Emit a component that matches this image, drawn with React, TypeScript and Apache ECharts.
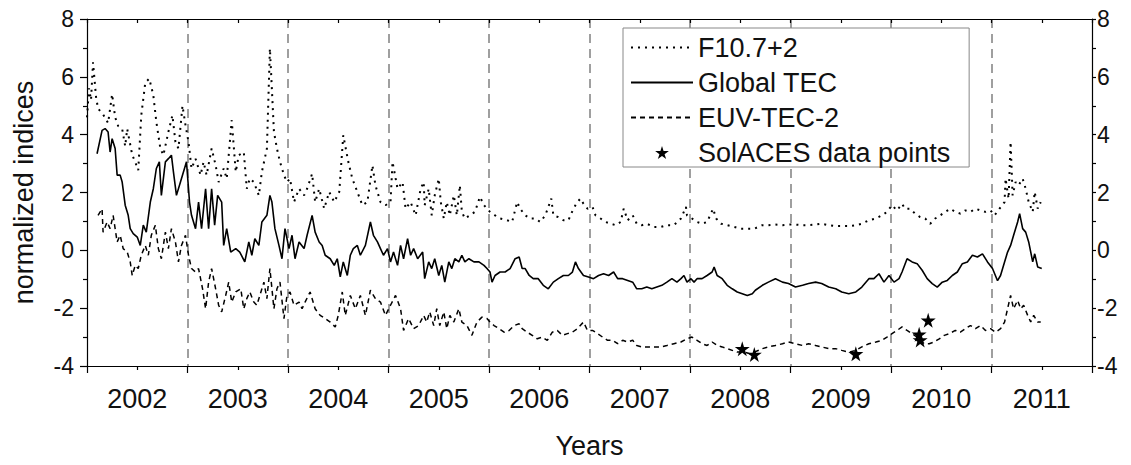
import React, { useEffect, useRef } from "react";
import * as echarts from "echarts";

// ---- data (decimal year, normalized value) ----
const f107: [number, number][] = [
  [2002.00,4.6],[2002.02,5.6],[2002.04,5.2],[2002.06,6.5],[2002.09,5.3],[2002.11,4.9],[2002.16,4.7],[2002.21,4.4],
  [2002.25,5.4],[2002.28,4.6],[2002.31,4.3],[2002.35,4.2],[2002.38,3.6],[2002.40,4.2],[2002.45,3.3],[2002.48,3.05],
  [2002.51,2.77],[2002.54,4.67],[2002.58,5.8],[2002.62,5.94],[2002.66,5.36],[2002.69,4.44],[2002.73,3.52],[2002.76,3.29],
  [2002.81,4.1],[2002.85,4.67],[2002.88,3.75],[2002.91,3.52],[2002.95,5.0],[2002.98,4.33],[2003.01,3.75],[2003.04,2.83],
  [2003.08,3.17],[2003.13,2.6],[2003.16,3.06],[2003.19,2.6],[2003.24,3.52],[2003.28,2.94],[2003.31,2.36],[2003.36,2.83],
  [2003.39,2.48],[2003.44,4.5],[2003.48,2.71],[2003.51,3.29],[2003.56,3.4],[2003.59,2.13],[2003.62,2.48],[2003.66,2.36],
  [2003.71,1.9],[2003.74,2.71],[2003.79,3.52],[2003.82,6.98],[2003.86,4.1],[2003.89,3.52],[2003.92,3.06],[2003.96,2.6],
  [2003.99,2.36],[2004.02,2.48],[2004.06,1.67],[2004.11,2.13],[2004.16,1.9],[2004.19,2.13],[2004.24,2.65],[2004.27,1.67],
  [2004.31,2.13],[2004.36,1.44],[2004.41,2.02],[2004.46,1.67],[2004.51,2.02],[2004.55,3.98],[2004.60,3.06],[2004.64,2.48],
  [2004.69,2.02],[2004.74,1.56],[2004.79,1.67],[2004.84,2.94],[2004.87,2.25],[2004.92,1.67],[2004.97,1.56],[2005.02,1.67],
  [2005.04,3.06],[2005.09,2.13],[2005.14,2.36],[2005.17,1.44],[2005.22,1.67],[2005.27,1.21],[2005.32,2.13],[2005.35,2.36],
  [2005.36,1.56],[2005.40,2.13],[2005.43,1.21],[2005.46,1.9],[2005.50,2.48],[2005.52,1.67],[2005.55,1.10],[2005.58,1.67],
  [2005.61,1.21],[2005.65,1.90],[2005.68,1.21],[2005.71,2.25],[2005.73,1.33],[2005.76,1.10],[2005.81,1.21],[2005.86,1.33],
  [2005.91,1.85],[2005.95,1.56],[2005.98,1.44],[2006.01,1.33],[2006.06,1.21],[2006.11,1.10],[2006.18,1.04],[2006.23,0.98],
  [2006.28,1.67],[2006.31,1.44],[2006.36,1.21],[2006.41,1.10],[2006.46,1.10],[2006.51,0.98],[2006.56,1.21],[2006.62,1.79],
  [2006.64,1.21],[2006.69,1.15],[2006.74,1.04],[2006.79,1.04],[2006.84,1.44],[2006.88,1.67],[2006.91,1.79],[2006.94,1.61],
  [2006.98,1.44],[2007.03,1.50],[2007.06,1.21],[2007.11,1.10],[2007.16,0.98],[2007.21,0.92],[2007.26,0.87],[2007.31,0.98],
  [2007.34,1.44],[2007.38,1.04],[2007.43,1.21],[2007.47,0.92],[2007.52,0.87],[2007.57,0.92],[2007.64,0.81],[2007.71,0.81],
  [2007.77,0.87],[2007.84,0.87],[2007.91,1.10],[2007.96,1.50],[2007.97,1.21],[2008.02,1.10],[2008.07,0.98],[2008.12,0.92],
  [2008.17,0.98],[2008.23,1.44],[2008.26,1.10],[2008.31,0.92],[2008.37,0.87],[2008.44,0.81],[2008.50,0.75],[2008.57,0.75],
  [2008.64,0.75],[2008.72,0.87],[2008.78,0.87],[2008.85,0.89],[2008.92,0.87],[2008.98,0.89],[2009.05,0.89],[2009.12,0.87],
  [2009.18,0.87],[2009.25,0.89],[2009.31,0.92],[2009.38,0.87],[2009.45,0.84],[2009.51,0.84],[2009.58,0.84],[2009.65,0.87],
  [2009.71,0.92],[2009.78,1.04],[2009.85,1.10],[2009.91,1.21],[2009.96,1.33],[2010.01,1.56],[2010.06,1.38],[2010.11,1.61],
  [2010.14,1.44],[2010.19,1.44],[2010.24,1.27],[2010.29,1.15],[2010.34,1.10],[2010.39,0.92],[2010.44,1.10],[2010.49,1.21],
  [2010.54,1.33],[2010.59,1.44],[2010.64,1.33],[2010.69,1.27],[2010.74,1.38],[2010.79,1.33],[2010.84,1.44],[2010.89,1.38],
  [2010.94,1.33],[2010.99,1.38],[2011.03,1.21],[2011.08,1.44],[2011.13,1.67],[2011.14,2.48],[2011.17,1.79],[2011.19,3.75],
  [2011.21,1.90],[2011.24,2.36],[2011.27,2.25],[2011.31,2.48],[2011.34,2.13],[2011.37,1.67],[2011.41,1.33],[2011.43,2.02],
  [2011.46,1.44],[2011.49,1.67]
];

const globalTec: [number, number][] = [
  [2002.10,3.34],[2002.15,4.15],[2002.18,4.21],[2002.21,4.09],[2002.23,3.40],[2002.25,3.86],[2002.28,3.52],[2002.30,2.60],
  [2002.33,2.60],[2002.35,2.36],[2002.38,1.56],[2002.41,1.21],[2002.43,0.75],[2002.46,0.58],[2002.50,0.46],[2002.53,0.17],
  [2002.56,0.87],[2002.59,0.63],[2002.63,1.67],[2002.66,2.13],[2002.69,2.83],[2002.72,3.06],[2002.74,1.90],[2002.78,3.06],
  [2002.81,3.17],[2002.84,3.29],[2002.86,2.71],[2002.89,1.90],[2002.93,2.36],[2002.97,2.83],[2002.99,3.06],[2003.02,1.67],
  [2003.04,1.21],[2003.08,0.75],[2003.11,1.67],[2003.14,0.75],[2003.18,2.13],[2003.21,0.75],[2003.24,2.13],[2003.27,0.87],
  [2003.30,1.90],[2003.34,1.67],[2003.36,0.17],[2003.39,0.75],[2003.43,-0.06],[2003.48,0.06],[2003.52,-0.06],[2003.57,-0.40],
  [2003.61,0.29],[2003.64,-0.17],[2003.67,0.40],[2003.71,0.17],[2003.74,0.98],[2003.79,1.21],[2003.82,1.90],[2003.84,1.67],
  [2003.87,0.75],[2003.91,0.17],[2003.94,-0.29],[2003.97,0.75],[2004.01,0.06],[2004.04,0.52],[2004.07,-0.29],[2004.11,0.29],
  [2004.16,0.06],[2004.19,0.52],[2004.24,1.21],[2004.27,0.63],[2004.31,0.29],[2004.34,0.17],[2004.37,-0.17],[2004.42,-0.29],
  [2004.46,-0.52],[2004.49,-0.29],[2004.52,-0.92],[2004.55,-0.40],[2004.59,-0.87],[2004.62,-0.17],[2004.65,0.06],[2004.69,0.17],
  [2004.72,-0.17],[2004.77,0.17],[2004.82,0.98],[2004.85,0.52],[2004.89,0.29],[2004.92,0.06],[2004.95,-0.17],[2004.99,0.06],
  [2005.02,-0.40],[2005.05,-0.06],[2005.09,-0.52],[2005.12,0.17],[2005.15,-0.29],[2005.19,0.40],[2005.22,-0.17],[2005.25,0.06],
  [2005.29,-0.29],[2005.34,-0.06],[2005.36,-0.98],[2005.40,-0.40],[2005.43,-0.63],[2005.46,-0.29],[2005.50,-0.87],[2005.53,-0.52],
  [2005.56,-1.10],[2005.60,-0.40],[2005.63,-0.63],[2005.66,-0.29],[2005.70,-0.40],[2005.73,-0.17],[2005.76,-0.40],[2005.80,-0.29],
  [2005.85,-0.40],[2005.90,-0.40],[2005.95,-0.52],[2005.98,-0.63],[2006.01,-0.75],[2006.03,-1.10],[2006.06,-0.87],[2006.11,-0.75],
  [2006.16,-0.75],[2006.21,-0.63],[2006.26,-0.29],[2006.30,-0.23],[2006.33,-0.63],[2006.36,-0.63],[2006.40,-0.87],[2006.44,-0.98],
  [2006.49,-0.98],[2006.54,-1.21],[2006.59,-1.33],[2006.64,-1.10],[2006.69,-0.98],[2006.74,-0.87],[2006.79,-0.87],[2006.83,-0.75],
  [2006.86,-0.40],[2006.89,-0.63],[2006.94,-0.87],[2006.99,-0.92],[2007.04,-0.98],[2007.09,-0.87],[2007.14,-0.81],[2007.19,-0.87],
  [2007.24,-0.75],[2007.28,-0.98],[2007.33,-0.98],[2007.38,-1.04],[2007.43,-1.10],[2007.47,-1.33],[2007.52,-1.33],[2007.57,-1.27],
  [2007.62,-1.33],[2007.67,-1.27],[2007.72,-1.21],[2007.77,-1.10],[2007.82,-0.98],[2007.87,-1.10],[2007.91,-0.98],[2007.94,-0.87],
  [2007.97,-1.10],[2008.01,-0.98],[2008.04,-1.10],[2008.07,-0.98],[2008.12,-0.98],[2008.17,-0.87],[2008.22,-0.75],[2008.24,-0.58],
  [2008.27,-0.87],[2008.32,-0.98],[2008.37,-1.21],[2008.42,-1.33],[2008.47,-1.44],[2008.52,-1.50],[2008.57,-1.56],[2008.62,-1.50],
  [2008.65,-1.38],[2008.72,-1.21],[2008.78,-1.10],[2008.85,-0.98],[2008.92,-1.10],[2008.98,-1.15],[2009.05,-1.27],[2009.12,-1.21],
  [2009.18,-1.15],[2009.25,-1.10],[2009.31,-1.15],[2009.38,-1.27],[2009.45,-1.33],[2009.51,-1.44],[2009.58,-1.50],[2009.65,-1.44],
  [2009.71,-1.27],[2009.78,-0.98],[2009.83,-0.98],[2009.88,-0.81],[2009.93,-1.10],[2009.98,-0.87],[2010.03,-1.10],[2010.08,-0.98],
  [2010.11,-0.75],[2010.16,-0.29],[2010.21,-0.40],[2010.26,-0.46],[2010.31,-0.69],[2010.36,-0.98],[2010.41,-1.15],[2010.46,-1.27],
  [2010.51,-1.10],[2010.56,-1.04],[2010.61,-0.87],[2010.66,-0.75],[2010.71,-0.46],[2010.76,-0.40],[2010.81,-0.17],[2010.86,-0.23],
  [2010.91,-0.12],[2010.96,-0.40],[2011.01,-0.63],[2011.06,-1.05],[2011.09,-0.87],[2011.13,-0.40],[2011.16,-0.06],[2011.19,0.17],
  [2011.22,0.52],[2011.26,0.98],[2011.28,1.27],[2011.31,0.75],[2011.34,0.63],[2011.37,0.29],[2011.41,-0.40],[2011.43,-0.12],
  [2011.46,-0.58],[2011.50,-0.63]
];

const euvTec: [number, number][] = [
  [2002.11,1.21],[2002.15,1.44],[2002.16,0.63],[2002.20,0.98],[2002.23,0.75],[2002.26,1.21],[2002.30,0.29],[2002.33,0.52],
  [2002.36,0.06],[2002.40,-0.06],[2002.43,-0.40],[2002.45,-0.87],[2002.48,-0.52],[2002.51,-0.63],[2002.54,-0.17],[2002.58,0.17],
  [2002.61,-0.17],[2002.64,0.52],[2002.68,0.87],[2002.71,0.06],[2002.74,-0.29],[2002.78,0.63],[2002.81,0.06],[2002.84,0.75],
  [2002.88,0.29],[2002.91,-0.40],[2002.94,0.17],[2002.98,0.52],[2003.01,-0.17],[2003.04,-0.63],[2003.08,-0.75],[2003.11,-0.63],
  [2003.15,-1.33],[2003.18,-2.02],[2003.21,-1.10],[2003.24,-0.63],[2003.28,-1.33],[2003.31,-1.90],[2003.34,-2.13],[2003.38,-1.56],
  [2003.41,-1.10],[2003.44,-1.79],[2003.48,-1.44],[2003.53,-1.33],[2003.56,-2.02],[2003.59,-1.67],[2003.62,-1.44],[2003.66,-1.79],
  [2003.69,-1.90],[2003.72,-1.56],[2003.76,-1.10],[2003.79,-1.67],[2003.82,-0.63],[2003.86,-2.02],[2003.89,-1.33],[2003.92,-1.10],
  [2003.96,-2.36],[2003.99,-1.56],[2004.02,-1.44],[2004.06,-1.90],[2004.11,-1.79],[2004.14,-2.02],[2004.17,-1.79],[2004.22,-1.44],
  [2004.27,-2.02],[2004.32,-2.25],[2004.37,-2.36],[2004.42,-2.48],[2004.47,-2.65],[2004.50,-2.25],[2004.54,-1.44],[2004.57,-2.25],
  [2004.62,-1.56],[2004.67,-2.02],[2004.72,-1.56],[2004.77,-2.25],[2004.82,-1.38],[2004.87,-1.67],[2004.92,-1.79],[2004.97,-2.25],
  [2005.02,-1.90],[2005.07,-1.56],[2005.12,-2.02],[2005.15,-2.77],[2005.20,-2.36],[2005.25,-2.71],[2005.30,-2.60],[2005.35,-2.25],
  [2005.38,-2.48],[2005.41,-2.13],[2005.45,-2.60],[2005.48,-2.02],[2005.51,-2.60],[2005.55,-2.13],[2005.58,-2.71],[2005.61,-2.25],
  [2005.65,-2.48],[2005.70,-2.02],[2005.73,-2.48],[2005.78,-2.60],[2005.83,-2.94],[2005.88,-2.48],[2005.93,-2.31],[2005.98,-2.36],
  [2006.01,-2.48],[2006.05,-2.60],[2006.10,-2.71],[2006.15,-2.83],[2006.20,-2.77],[2006.25,-2.60],[2006.30,-2.54],[2006.33,-2.71],
  [2006.38,-2.83],[2006.43,-2.94],[2006.48,-3.06],[2006.53,-3.00],[2006.58,-3.11],[2006.63,-2.83],[2006.68,-2.77],[2006.73,-2.94],
  [2006.78,-2.88],[2006.83,-2.83],[2006.88,-2.71],[2006.94,-2.48],[2006.98,-2.77],[2007.03,-2.77],[2007.08,-2.88],[2007.13,-3.00],
  [2007.18,-3.11],[2007.23,-3.11],[2007.28,-3.23],[2007.33,-3.11],[2007.38,-3.17],[2007.43,-3.11],[2007.47,-3.29],[2007.52,-3.34],
  [2007.57,-3.34],[2007.64,-3.34],[2007.71,-3.34],[2007.77,-3.29],[2007.84,-3.23],[2007.91,-3.17],[2007.97,-3.06],[2008.02,-3.00],
  [2008.07,-3.11],[2008.12,-3.23],[2008.17,-3.29],[2008.22,-3.17],[2008.27,-3.29],[2008.32,-3.34],[2008.37,-3.40],[2008.42,-3.46],
  [2008.47,-3.52],[2008.54,-3.52],[2008.60,-3.58],[2008.72,-3.40],[2008.78,-3.34],[2008.85,-3.29],[2008.92,-3.23],[2008.98,-3.17],
  [2009.05,-3.23],[2009.12,-3.29],[2009.18,-3.23],[2009.25,-3.29],[2009.31,-3.34],[2009.38,-3.40],[2009.45,-3.40],[2009.51,-3.46],
  [2009.58,-3.52],[2009.65,-3.46],[2009.71,-3.34],[2009.78,-3.23],[2009.85,-3.17],[2009.91,-3.11],[2009.96,-3.00],[2010.01,-2.88],
  [2010.06,-2.77],[2010.11,-2.65],[2010.16,-2.77],[2010.21,-2.88],[2010.28,-3.06],[2010.33,-3.23],[2010.38,-3.23],[2010.43,-3.17],
  [2010.48,-3.06],[2010.53,-2.94],[2010.58,-2.88],[2010.64,-2.77],[2010.69,-2.83],[2010.74,-2.71],[2010.79,-2.60],[2010.84,-2.71],
  [2010.89,-2.60],[2010.94,-2.77],[2010.99,-2.71],[2011.04,-2.83],[2011.09,-2.71],[2011.13,-2.48],[2011.16,-2.02],[2011.19,-1.56],
  [2011.22,-2.02],[2011.26,-1.73],[2011.29,-2.02],[2011.32,-1.90],[2011.36,-2.25],[2011.39,-2.48],[2011.42,-2.25],[2011.46,-2.48],
  [2011.49,-2.48]
];

const solaces: [number, number][] = [
  [2008.52,-3.40],[2008.64,-3.60],[2009.65,-3.58],[2010.28,-2.90],[2010.29,-3.10],[2010.37,-2.42]
];

const yearMin = 2002;
const yearMax = 2012;
const yMin = -4;
const yMax = 8;

const STAR = "path://M50,0 L61,35 L98,35 L68,57 L79,91 L50,70 L21,91 L32,57 L2,35 L39,35 Z";
const FONT = "'Liberation Sans', Arial, sans-serif";
const TXT = "#111";
const AX = { color: "#000", width: 1.2 };

export default function App() {
  const ref = useRef<HTMLDivElement>(null);
  useEffect(() => {
    if (!ref.current) return;
    const chart = echarts.init(ref.current, undefined, { renderer: "svg" });
    const lineLegend = (name: string) => ({ name, itemStyle: { opacity: 0, borderWidth: 0 } });
    chart.setOption({
      animation: false,
      backgroundColor: "#fff",
      textStyle: { fontFamily: FONT },
      grid: { left: 87, right: 39, top: 19, bottom: 99, containLabel: false, outerBoundsMode: "none" },
      legend: {
        orient: "vertical",
        left: 623,
        top: 28,
        padding: [6, 19, 1, 7],
        itemGap: 8,
        itemWidth: 62,
        itemHeight: 13,
        backgroundColor: "#fff",
        borderColor: "#888",
        borderWidth: 1,
        textStyle: { fontSize: 27, lineHeight: 27, color: TXT, fontFamily: FONT },
        data: [
          lineLegend("F10.7+2"),
          lineLegend("Global TEC"),
          lineLegend("EUV-TEC-2"),
          { name: "SolACES data points", icon: STAR, itemStyle: { color: "#000", opacity: 1 } },
        ],
      },
      xAxis: [
        {
          type: "value", position: "bottom", min: yearMin, max: yearMax, interval: 1,
          axisLine: { show: true, onZero: false, lineStyle: AX },
          axisTick: { show: true, inside: false, length: 7, lineStyle: AX },
          minorTick: { show: true, splitNumber: 2, length: 4, lineStyle: AX },
          axisLabel: { show: false },
          splitLine: { show: true, showMinLine: false, showMaxLine: false, lineStyle: { color: "#888", width: 1.6, type: [9, 6] } },
        },
        {
          type: "value", position: "bottom", min: yearMin, max: yearMax, interval: 0.5,
          axisLine: { show: false, onZero: false }, axisTick: { show: false }, splitLine: { show: false },
          axisLabel: {
            show: true, margin: 19, fontSize: 27, color: TXT, fontFamily: FONT,
            formatter: (v: number) => (Math.abs(v - Math.floor(v) - 0.5) < 1e-6 ? String(Math.floor(v)) : ""),
          },
          name: "Years", nameLocation: "middle", nameGap: 66,
          nameTextStyle: { fontSize: 27, color: TXT, fontFamily: FONT },
        },
        {
          type: "value", position: "top", min: yearMin, max: yearMax, interval: 0.5,
          axisLine: { show: true, onZero: false, lineStyle: AX },
          axisTick: { show: true, inside: true, length: 4, lineStyle: AX },
          axisLabel: { show: false }, splitLine: { show: false },
        },
      ],
      yAxis: [
        {
          type: "value", position: "left", min: yMin, max: yMax, interval: 2,
          axisLine: { show: true, onZero: false, lineStyle: AX },
          axisTick: { show: true, inside: false, length: 7, lineStyle: AX },
          minorTick: { show: true, splitNumber: 2, length: 4, lineStyle: AX },
          axisLabel: { show: true, margin: 13, fontSize: 23, color: TXT, fontFamily: FONT },
          splitLine: { show: false },
          name: "normalized indices", nameLocation: "middle", nameGap: 50,
          nameTextStyle: { fontSize: 27, color: TXT, fontFamily: FONT },
        },
        {
          type: "value", position: "right", min: yMin, max: yMax, interval: 2,
          axisLine: { show: true, onZero: false, lineStyle: AX },
          axisTick: { show: true, inside: false, length: 4, lineStyle: AX },
          minorTick: { show: true, splitNumber: 2, length: 4, lineStyle: AX },
          axisLabel: { show: true, margin: 5, fontSize: 23, color: TXT, fontFamily: FONT },
          splitLine: { show: false },
        },
      ],
      series: [
        {
          name: "F10.7+2", type: "line", data: f107, xAxisIndex: 0, yAxisIndex: 0,
          symbol: "none", showSymbol: false, color: "#000",
          lineStyle: { color: "#000", width: 2, type: [2, 5] },
        },
        {
          name: "Global TEC", type: "line", data: globalTec, xAxisIndex: 0, yAxisIndex: 0,
          symbol: "none", showSymbol: false, color: "#000",
          lineStyle: { color: "#000", width: 1.6, type: "solid" },
        },
        {
          name: "EUV-TEC-2", type: "line", data: euvTec, xAxisIndex: 0, yAxisIndex: 0,
          symbol: "none", showSymbol: false, color: "#000",
          lineStyle: { color: "#000", width: 1.5, type: [5, 4] },
        },
        {
          name: "SolACES data points", type: "scatter", data: solaces, xAxisIndex: 0, yAxisIndex: 0,
          symbol: STAR, symbolSize: 15, itemStyle: { color: "#000", opacity: 1 }, z: 5,
        },
      ],
    });
    return () => chart.dispose();
  }, []);
  return (
    <div
      ref={ref}
      style={{ position: "absolute", left: 0, top: 0, width: 1131, height: 465 }}
    />
  );
}
